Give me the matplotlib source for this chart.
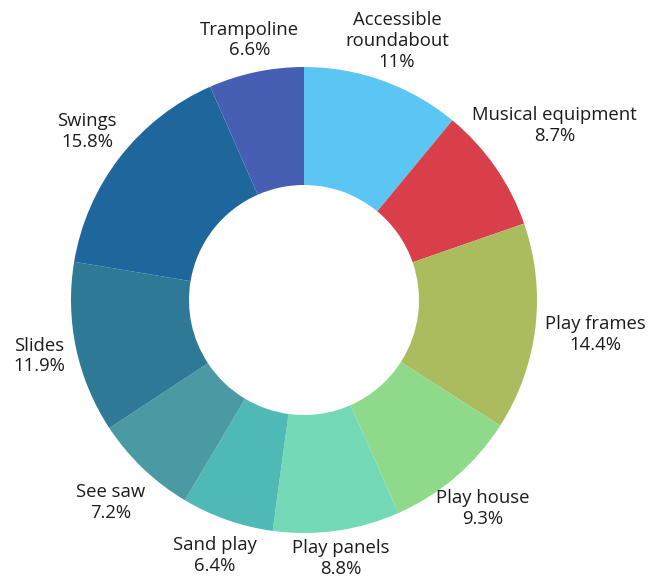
import numpy as np
import matplotlib
matplotlib.use("Agg")
import matplotlib.pyplot as plt

plt.rcParams['font.family'] = ['Open Sans', 'DejaVu Sans']

categories = ["Accessible\nroundabout", "Musical equipment", "Play frames", "Play house",
              "Play panels", "Sand play", "See saw", "Slides", "Swings", "Trampoline"]
values = [11, 8.7, 14.4, 9.3, 8.8, 6.4, 7.2, 11.9, 15.8, 6.6]
colors = ["#5BC6F3", "#D93E4B", "#ABBC5E", "#8FD98A", "#73D9B6",
          "#4FBAB5", "#4A9AA4", "#2E7A96", "#1E679D", "#465FB3"]

# radial distance of each label centre, as a multiple of the outer radius
label_dist = [1.18, 1.31, 1.26, 1.18, 1.12, 1.16, 1.20, 1.16, 1.18, 1.14]

fig = plt.figure(figsize=(6.56, 5.81), dpi=100)
ax = fig.add_axes([0, 0, 1, 1])
R = 233

wedges, _ = ax.pie(values, colors=colors, startangle=90, counterclock=False,
                   radius=R, wedgeprops=dict(width=R - 115, linewidth=0))

ax.set_xlim(-304, 352)
ax.set_ylim(-281, 300)
ax.set_aspect('equal')
ax.axis('off')

for w, cat, val, d in zip(wedges, categories, values, label_dist):
    ang = np.deg2rad((w.theta1 + w.theta2) / 2)
    x, y = d * R * np.cos(ang), d * R * np.sin(ang)
    txt = f"{cat}\n{val:g}%"
    ax.text(x, y, txt, ha='center', va='center', fontsize=13.3,
            color='#1c1c1c', linespacing=1.2)

fig.savefig("out.png", dpi=100)
